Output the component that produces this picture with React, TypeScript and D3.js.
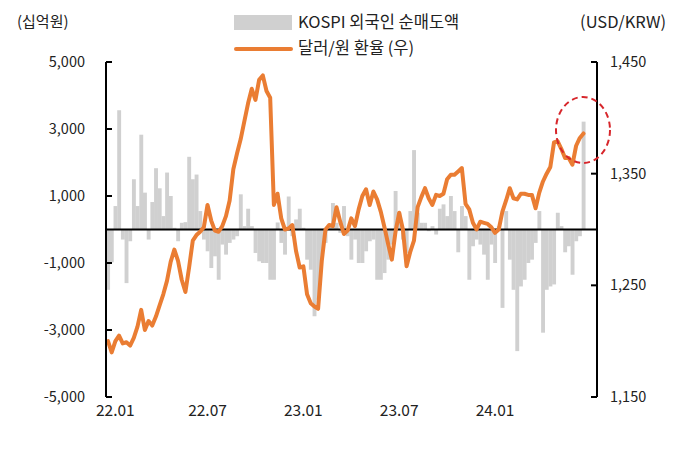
import React from "react";
import * as d3 from "d3";

// Weekly KOSPI foreign net buying (십억원), Jan 2022 → Jun 2024
const netBuy: number[] = [
  -1800, -980, 700, 3560, -300, -1600, -350, 1500, 700, 2830,
  1100, -300, 820, 1830, 1230, 400, 1700, 1000, 50, -350,
  200, 220, 2170, 1500, 1640, 550, -300, -650, -1150, -800,
  -1500, -450, -750, -400, -300, -200, 1050, 100, 620, 100,
  -700, -950, -1000, -1000, -1500, -1500, 210, -400, -750, 985,
  -200, 300, 620, 50, -900, -1200, -2590, -2100, -900, -400,
  100, 790, 200, -100, 700, -200, -900, -300, -1000, -1000,
  -650, -350, -300, -1500, -1500, -1300, -900, -450, 1150, 500,
  -300, -700, 550, 2370, 500, 200, 200, -50, 100, -150,
  620, 750, 400, 1000, 550, -680, 700, 400, -1500, -500,
  -300, -450, -750, -1500, -450, -1000, 100, -2340, 550, -900,
  -1800, -3630, -1700, -1500, -1000, -900, -400, 550, -3080, -1800,
  -1700, -1640, 500, 100, -680, -500, -1350, -350, -200, 3220,
];

// Weekly USD/KRW
const usdKrw: number[] = [
  1200, 1190, 1200, 1205, 1198, 1199, 1196, 1203, 1213, 1228,
  1210, 1218, 1214, 1222, 1232, 1242, 1254, 1271, 1282, 1272,
  1255, 1244, 1266, 1290, 1295, 1298, 1302, 1322, 1308, 1299,
  1298, 1303, 1312, 1326, 1354, 1368, 1381, 1397, 1413, 1426,
  1416, 1434, 1438, 1424, 1418, 1322, 1332, 1310, 1300, 1301,
  1304, 1281, 1266, 1267, 1242, 1234, 1231, 1229, 1272, 1300,
  1304, 1303, 1320, 1307, 1296, 1299, 1310, 1303, 1318, 1330,
  1336, 1322, 1334, 1327, 1316, 1302, 1287, 1273, 1298, 1315,
  1300, 1267, 1280, 1290, 1320, 1329, 1337, 1328, 1322, 1331,
  1330, 1332, 1345, 1349, 1349, 1352, 1355, 1323, 1318, 1306,
  1300, 1307, 1306, 1305, 1302, 1297, 1300, 1316, 1326, 1337,
  1328, 1327, 1332, 1332, 1331, 1331, 1319, 1333, 1343, 1350,
  1356, 1378, 1379, 1372, 1364, 1364, 1358, 1375, 1382, 1386,
];

const xTickIndex: number[] = [2, 27, 53, 79, 105];
const xTickLabels: string[] = ["22.01", "22.07", "23.01", "23.07", "24.01"];
const leftTicks: number[] = [5000, 3000, 1000, -1000, -3000, -5000];
const rightTicks: number[] = [1450, 1350, 1250, 1150];

const W = 686;
const H = 452;
const FONT = "'Noto Sans CJK KR', 'Noto Sans', sans-serif";

export default function App() {
  const left = 106;
  const right = 597;
  const top = 62;
  const bottom = 397;

  const x = d3.scaleLinear().domain([0, 129]).range([108, 583.5]);
  const yL = d3.scaleLinear().domain([-5000, 5000]).range([bottom, top]);
  const yR = d3.scaleLinear().domain([1150, 1450]).range([bottom, top]);
  const bw = x(1) - x(0);

  const line = d3
    .line<number>()
    .x((_, i) => x(i))
    .y((d) => yR(d))
    .curve(d3.curveLinear);

  const fmt = d3.format(",");

  return (
    <svg
      width={W}
      height={H}
      style={{ position: "absolute", left: 0, top: 0, background: "#fff" }}
      fontFamily={FONT}
    >
      {/* bars */}
      {netBuy.map((v, i) => (
        <rect
          key={i}
          x={x(i) - bw / 2}
          width={bw + 0.2}
          y={Math.min(yL(v), yL(0))}
          height={Math.abs(yL(v) - yL(0))}
          fill="#d0d0d0"
        />
      ))}
      {/* zero line */}
      <line x1={left} x2={right} y1={yL(0)} y2={yL(0)} stroke="#000" strokeWidth={2} />
      {/* line */}
      <path
        d={line(usdKrw) || ""}
        fill="none"
        stroke="#ea7d33"
        strokeWidth={4}
        strokeLinejoin="round"
        strokeLinecap="round"
      />
      {/* left axis */}
      <line x1={left} x2={left} y1={top} y2={bottom} stroke="#000" strokeWidth={2} />
      {leftTicks.map((t) => (
        <g key={t}>
          <line x1={left} x2={left + 6} y1={yL(t)} y2={yL(t)} stroke="#000" strokeWidth={2} />
          <text x={85} y={yL(t)} dy="0.35em" textAnchor="end" fontSize={14.5} fill="#222">
            {t < 0 ? "-" + fmt(-t) : fmt(t)}
          </text>
        </g>
      ))}
      {/* right axis */}
      <line x1={right} x2={right} y1={top} y2={bottom} stroke="#000" strokeWidth={2} />
      {rightTicks.map((t) => (
        <g key={t}>
          <line x1={right - 6} x2={right} y1={yR(t)} y2={yR(t)} stroke="#000" strokeWidth={2} />
          <text x={610} y={yR(t)} dy="0.35em" textAnchor="start" fontSize={14.5} fill="#222">
            {fmt(t)}
          </text>
        </g>
      ))}
      {/* x labels */}
      {xTickIndex.map((idx, k) => (
        <text key={k} x={x(idx)} y={411} dy="0.35em" textAnchor="middle" fontSize={15.5} fill="#222">
          {xTickLabels[k]}
        </text>
      ))}
      {/* axis titles */}
      <text x={17} y={22} dy="0.35em" fontSize={15} fill="#222">(십억원)</text>
      <text x={666} y={22} dy="0.35em" textAnchor="end" fontSize={16.5} fill="#222">(USD/KRW)</text>
      {/* legend */}
      <rect x={234} y={15} width={58} height={15} fill="#d0d0d0" />
      <text x={298} y={22} dy="0.35em" fontSize={16.5} fill="#222">KOSPI 외국인 순매도액</text>
      <line x1={236} x2={291} y1={49} y2={49} stroke="#ea7d33" strokeWidth={4} strokeLinecap="round" />
      <text x={298} y={48} dy="0.35em" fontSize={16.5} fill="#222">달러/원 환율 (우)</text>
      {/* highlight circle */}
      <ellipse
        cx={583}
        cy={130}
        rx={27}
        ry={33}
        fill="none"
        stroke="#d7262b"
        strokeWidth={2}
        strokeDasharray="6,4"
      />
    </svg>
  );
}
